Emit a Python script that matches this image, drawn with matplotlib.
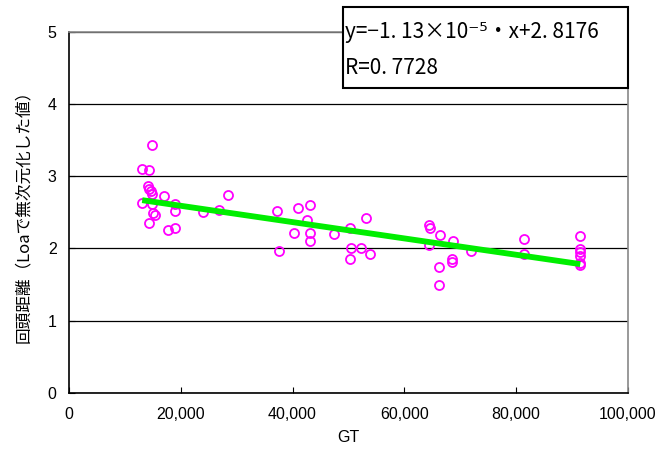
import numpy as np
import matplotlib
matplotlib.use("Agg")
import matplotlib.pyplot as plt
import matplotlib.patches as mpatches

plt.rcParams['font.family'] = ['Liberation Sans', 'DejaVu Sans']

# GT vs non-dimensional turning distance
gt = [13100, 13100, 14100, 14300, 14300, 14300, 14600, 14800, 14900, 14900,
      15100, 15300, 17000, 17800, 19000, 19000, 19000, 24000, 26800, 28500,
      37200, 37600, 40300, 41000, 42600, 43200, 43200, 43200, 47500, 50300,
      50500, 50300, 52200, 53100, 53800, 64500, 64600, 64500, 66400, 66300,
      66300, 68800, 68600, 68600, 71900, 81500, 81500, 91500, 91500, 91500,
      91500, 91500, 91500]
dist = [3.10, 2.63, 2.87, 3.09, 2.83, 2.35, 2.79, 3.43, 2.76, 2.62,
        2.49, 2.47, 2.73, 2.26, 2.62, 2.52, 2.28, 2.51, 2.54, 2.74,
        2.52, 1.97, 2.22, 2.56, 2.39, 2.60, 2.22, 2.11, 2.20, 2.28,
        2.01, 1.86, 2.01, 2.42, 1.93, 2.33, 2.29, 2.05, 2.18, 1.75,
        1.49, 2.11, 1.86, 1.81, 1.96, 2.13, 1.93, 2.17, 1.99, 1.95,
        1.90, 1.80, 1.77]

slope = -1.13e-5
intercept = 2.8176
eq_text = "y=\u22121. 13\u00d710\u207b\u2075\u30fbx+2. 8176"
r_text = "R=0. 7728"

xticks = [0, 20000, 40000, 60000, 80000, 100000]
yticks = [0, 1, 2, 3, 4, 5]

fig = plt.figure(figsize=(6.7, 4.5), dpi=100)
ax = fig.add_axes([0.103, 0.127, 0.834, 0.802])

ax.plot(gt, dist, 'o', markerfacecolor='none', markeredgecolor='#FF00FF',
        markeredgewidth=1.3, markersize=6.5, zorder=3)

xfit = np.array([min(gt), max(gt)])
ax.plot(xfit, slope * xfit + intercept, color='#00EE00', linewidth=4.2,
        solid_capstyle='butt', zorder=4)

ax.set_xlim(0, 100000)
ax.set_ylim(0, 5)
ax.set_xticks(xticks)
ax.set_xticklabels([f"{v:,}" for v in xticks])
ax.set_yticks(yticks)
ax.yaxis.grid(True, color='black', linewidth=0.9)
ax.set_axisbelow(True)

ax.tick_params(axis='both', direction='in', length=4, labelsize=11.5, color='black')
ax.tick_params(axis='x', pad=10)
ax.tick_params(axis='y', pad=9)

for s in ['left', 'bottom']:
    ax.spines[s].set_color('black')
    ax.spines[s].set_linewidth(1.2)
for s in ['top', 'right']:
    ax.spines[s].set_color('#888888')
    ax.spines[s].set_linewidth(1.2)

ax.set_xlabel('GT', fontsize=11.5, labelpad=6)
ax.set_ylabel('回頭距離（Loaで無次元化した値）', fontsize=12,
              family=['Noto Sans CJK JP', 'DejaVu Sans'], labelpad=11)

# equation box, top right, partly above the plot area
box = mpatches.Rectangle((343 / 670, 1 - 88 / 450), 285 / 670, 81 / 450,
                         transform=fig.transFigure, facecolor='white',
                         edgecolor='black', linewidth=1.5, zorder=10)
fig.patches.append(box)
fig.text(345 / 670, 1 - 32 / 450, eq_text, fontsize=15, va='center', ha='left',
         family=['Noto Sans CJK JP', 'DejaVu Sans'], zorder=11)
fig.text(345 / 670, 1 - 68 / 450, r_text, fontsize=15, va='center', ha='left',
         family=['Noto Sans CJK JP', 'DejaVu Sans'], zorder=11)

fig.savefig("out.png", dpi=100)
